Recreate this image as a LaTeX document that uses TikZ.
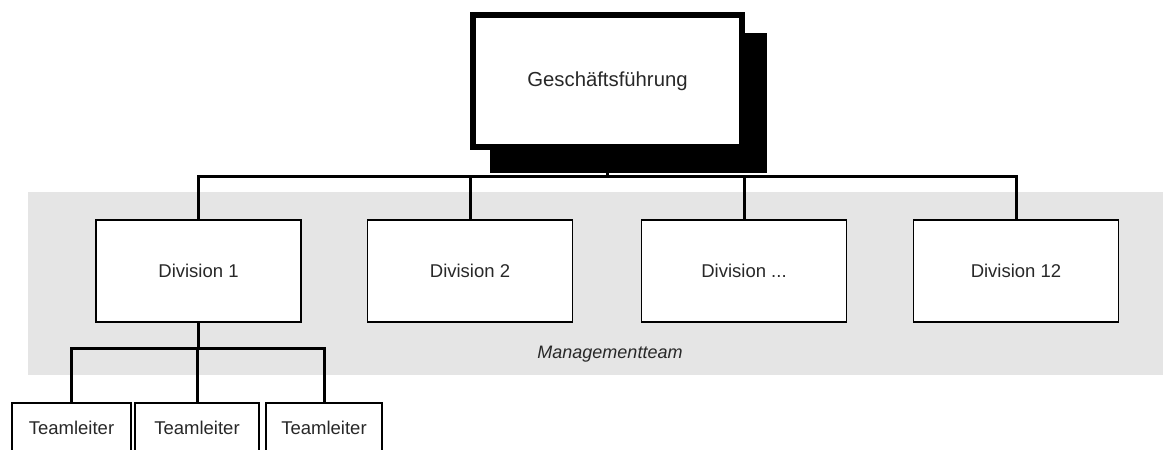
\documentclass[tikz,border=0pt]{standalone}
\usepackage{fontspec}
\setmainfont{Liberation Sans}
\definecolor{bandgray}{RGB}{229,229,229}
\definecolor{txt}{RGB}{40,40,40}
\begin{document}
\begin{tikzpicture}[x=1pt,y=-1pt,
  divbox/.style={draw=black,line width=1.5pt,fill=white,minimum width=205pt,minimum height=102pt,outer sep=0pt,inner sep=0pt,font=\fontsize{18.5}{20}\selectfont,text=txt},
  teambox/.style={draw=black,line width=1.5pt,fill=white,minimum height=50pt,outer sep=0pt,inner sep=0pt,font=\fontsize{18.5}{20}\selectfont,text=txt},
  topbox/.style={draw=black,line width=6pt,fill=white,minimum width=269pt,minimum height=132pt,outer sep=0pt,inner sep=0pt,font=\fontsize{20.3}{22}\selectfont,text=txt},
  bus/.style={draw=black,line width=3pt}]
\useasboundingbox (0,0) rectangle (1163,450);
\fill[bandgray] (28,192) rectangle (1163,375);
\node[font=\itshape\fontsize{18}{20}\selectfont,text=txt] (mt) at (610,354) {Managementteam};
% shadow of top box
\fill[black] (490,33) rectangle (767,173);
\node[topbox] (gf) at (607.5,81) {Geschäftsführung};
\node[divbox] (d1) at (198.5,271) {Division 1};
\node[divbox] (d2) at (470,271) {Division 2};
\node[divbox] (d3) at (744,271) {Division ...};
\node[divbox] (d4) at (1016,271) {Division 12};
\node[teambox,minimum width=119pt] (t1) at (71.5,428) {Teamleiter};
\node[teambox,minimum width=124pt] (t2) at (197,428) {Teamleiter};
\node[teambox,minimum width=116pt] (t3) at (324,428) {Teamleiter};
\coordinate (b) at (608,176);
\coordinate (tb) at (198,348);
\draw[bus] (gf.south) -- (gf.south |- b);
\draw[bus] (d1.north) -- (d1.north |- b) -- (d4.north |- b) -- (d4.north);
\draw[bus] (d2.north) -- (d2.north |- b);
\draw[bus] (d3.north) -- (d3.north |- b);
\draw[bus] (d1.south) -- (d1.south |- tb);
\draw[bus] (t1.north) -- (t1.north |- tb) -- (t3.north |- tb) -- (t3.north);
\draw[bus] (t2.north) -- (t2.north |- tb);
\end{tikzpicture}
\end{document}
